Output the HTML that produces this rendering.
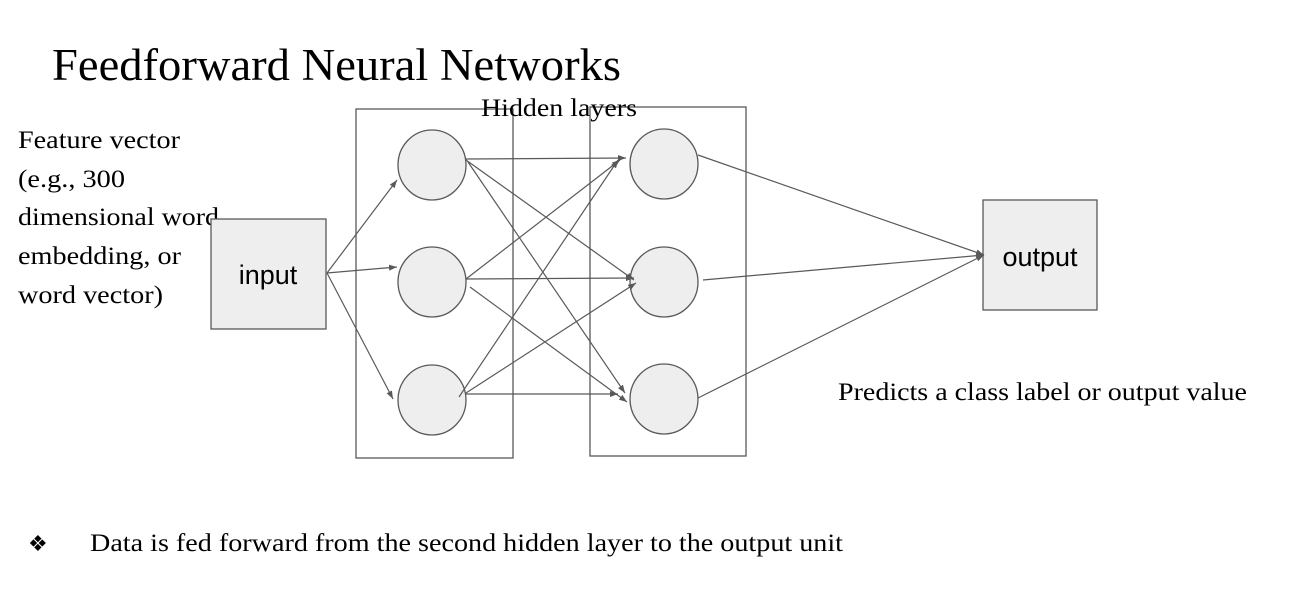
<!DOCTYPE html>
<html><head><meta charset="utf-8"><style>
body{margin:0;background:#fff;}
svg text{font-family:"Liberation Serif",serif;fill:#000;}
</style></head><body>
<svg width="1312" height="600" viewBox="0 0 1312 600" xmlns="http://www.w3.org/2000/svg">
<defs><marker id="a" markerWidth="8" markerHeight="6" refX="8" refY="3" orient="auto" markerUnits="userSpaceOnUse"><path d="M0,0 L8,3 L0,6 z" fill="#595959"/></marker></defs>
<text x="52" y="80" font-size="45" textLength="569" lengthAdjust="spacingAndGlyphs">Feedforward Neural Networks</text>
<g fill="none" stroke="#595959" stroke-width="1.3">
<rect x="356" y="109" width="157" height="349"/>
<rect x="590" y="107" width="156" height="349"/>
</g>
<text x="481" y="116" font-size="25" textLength="156" lengthAdjust="spacingAndGlyphs">Hidden layers</text>
<g font-size="25">
<text x="18" y="148" textLength="162" lengthAdjust="spacingAndGlyphs">Feature vector</text>
<text x="18" y="187" textLength="107" lengthAdjust="spacingAndGlyphs">(e.g., 300</text>
<text x="18" y="225" textLength="201" lengthAdjust="spacingAndGlyphs">dimensional word</text>
<text x="18" y="264" textLength="163" lengthAdjust="spacingAndGlyphs">embedding, or</text>
<text x="18" y="303" textLength="145" lengthAdjust="spacingAndGlyphs">word vector)</text>
</g>
<rect x="211" y="219" width="115" height="110" fill="#eeeeee" stroke="#595959" stroke-width="1.3"/>
<text x="268" y="284" font-size="27" text-anchor="middle" style="font-family:'Liberation Sans',sans-serif">input</text>
<rect x="983" y="200" width="114" height="110" fill="#eeeeee" stroke="#595959" stroke-width="1.3"/>
<text x="1040" y="266" font-size="27" text-anchor="middle" style="font-family:'Liberation Sans',sans-serif">output</text>
<g fill="#eeeeee" stroke="#595959" stroke-width="1.3">
<ellipse cx="432" cy="165" rx="34" ry="35"/><ellipse cx="432" cy="282" rx="34" ry="35"/><ellipse cx="432" cy="400" rx="34" ry="35"/>
<ellipse cx="664" cy="164" rx="34" ry="35"/><ellipse cx="664" cy="282" rx="34" ry="35"/><ellipse cx="664" cy="399" rx="34" ry="35"/>
</g>
<g stroke="#595959" stroke-width="1.2" marker-end="url(#a)">
<line x1="327" y1="273" x2="397" y2="180"/>
<line x1="327" y1="273" x2="397" y2="267"/>
<line x1="327" y1="273" x2="393" y2="399"/>
<line x1="466" y1="159" x2="626" y2="158"/>
<line x1="466" y1="160" x2="634" y2="280"/>
<line x1="468" y1="162" x2="625" y2="393"/>
<line x1="466" y1="279" x2="620" y2="160"/>
<line x1="466" y1="279" x2="634" y2="278"/>
<line x1="470" y1="287" x2="627" y2="402"/>
<line x1="459" y1="397" x2="618" y2="160"/>
<line x1="466" y1="393" x2="636" y2="283"/>
<line x1="466" y1="394" x2="618" y2="394"/>
<line x1="698" y1="155" x2="984" y2="255"/>
<line x1="703" y1="280" x2="984" y2="255"/>
<line x1="698" y1="398" x2="984" y2="255"/>
</g>
<text x="838" y="400" font-size="25" textLength="409" lengthAdjust="spacingAndGlyphs">Predicts a class label or output value</text>
<text x="28" y="551" font-size="22" style="font-family:'DejaVu Sans',sans-serif">❖</text>
<text x="90" y="551" font-size="25" textLength="753" lengthAdjust="spacingAndGlyphs">Data is fed forward from the second hidden layer to the output unit</text>
</svg>
</body></html>
